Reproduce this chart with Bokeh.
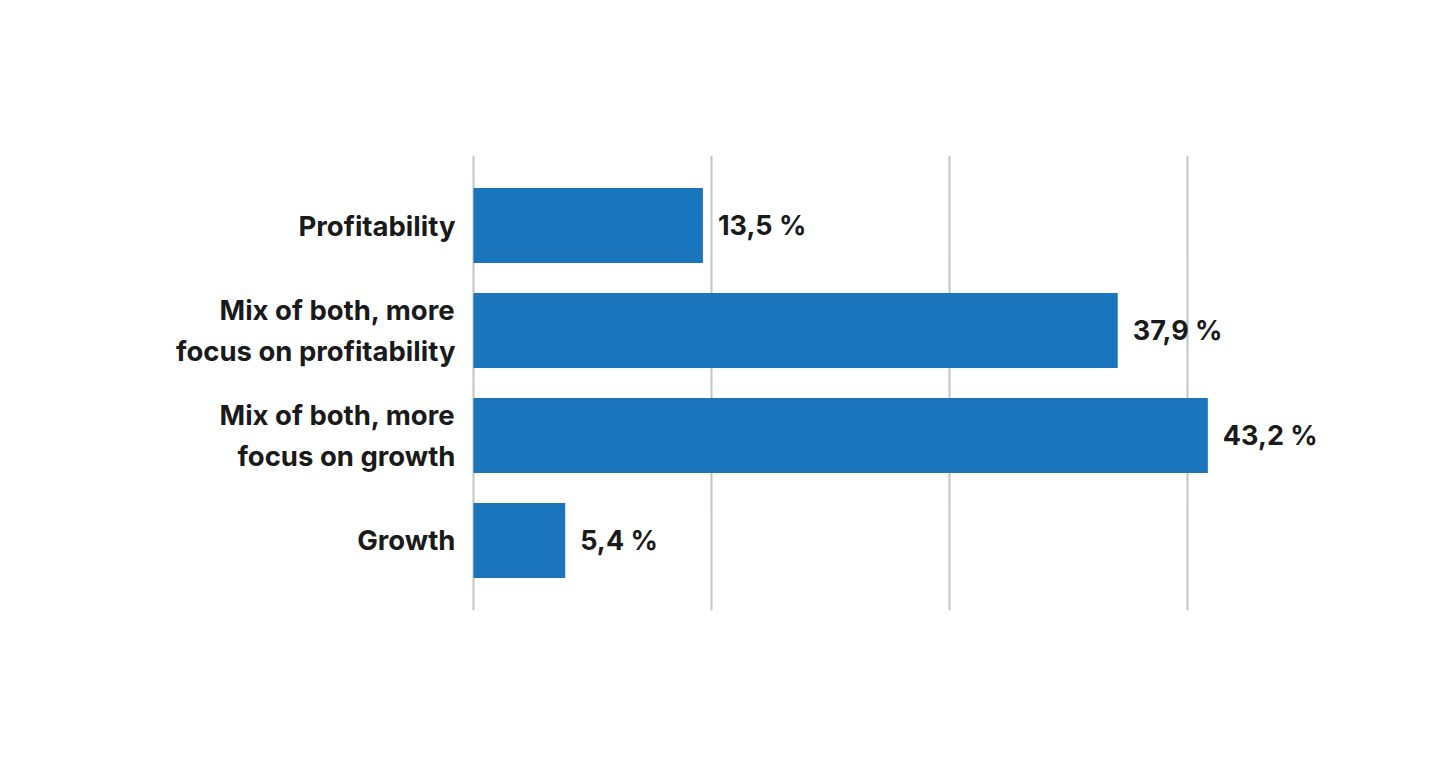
from bokeh.plotting import figure
from bokeh.models import ColumnDataSource, FixedTicker, Range1d
from bokeh.core.properties import value
from bokeh.embed import file_html
from bokeh.resources import INLINE

categories = ["Profitability", "Mix of both, more\nfocus on profitability",
              "Mix of both, more\nfocus on growth", "Growth"]
values = [13.5, 37.9, 43.2, 5.4]
value_labels = ["13,5 %", "37,9 %", "43,2 %", "5,4 %"]
positions = [4, 3, 2, 1]
grid_ticks = [0, 14, 28, 42]

src = ColumnDataSource(dict(y=positions, v=values, cat=categories, lab=value_labels,
                            zero=[0] * len(values)))

# x scale ~17 px per percent; negative side leaves room for category labels
p = figure(width=1440, height=748, output_backend="svg", toolbar_location=None,
           x_range=Range1d(-27.82, 51.71), y_range=Range1d(1 - 0.6667, 4 + 0.6667),
           min_border_left=0, min_border_right=88, min_border_top=155,
           min_border_bottom=138)
p.xaxis.visible = False
p.yaxis.visible = False
p.outline_line_color = None
p.ygrid.grid_line_color = None
p.xgrid.ticker = FixedTicker(ticks=grid_ticks)
p.xgrid.grid_line_color = "#c4c4c4"
p.xgrid.grid_line_width = 2
p.background_fill_color = "white"
p.border_fill_color = "white"

p.hbar(y="y", left="zero", right="v", height=0.714, source=src,
       fill_color="#1a75bd", line_color=None)

p.text(x="v", y="y", text="lab", source=src, x_offset=15,
       text_align="left", text_baseline="middle",
       text_font=value("Inter"), text_font_style="bold",
       text_font_size="27px", text_color="#1a1a1a")

p.text(x="zero", y="y", text="cat", source=src, x_offset=-18,
       text_align="right", text_baseline="middle", text_line_height=1.2,
       text_font=value("Inter"), text_font_style="bold",
       text_font_size="27.5px", text_color="#1a1a1a")

open("out.html", "w").write(file_html(p, INLINE))
